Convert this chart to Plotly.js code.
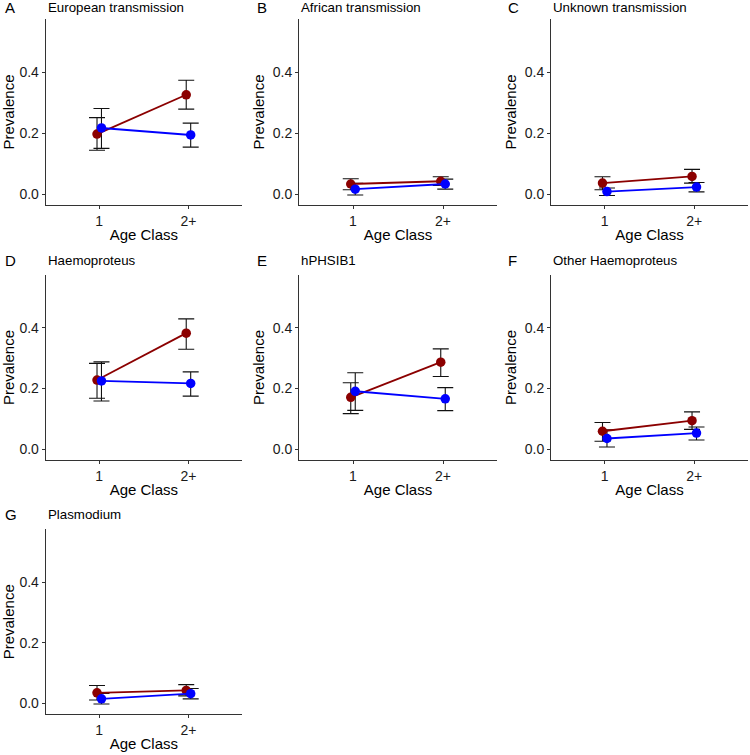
<!DOCTYPE html>
<html>
<head>
<meta charset="utf-8">
<script src="https://cdn.plot.ly/plotly-3.0.1.min.js"></script>
<style>html,body{margin:0;padding:0;background:#fff;}#chart{width:750px;height:755px;}</style>
</head>
<body>
<div id="chart"></div>
<script>
// ---- Data ----
const panelLetters = ["A", "B", "C", "D", "E", "F", "G"];
const panelTitles = ["European transmission", "African transmission", "Unknown transmission",
  "Haemoproteus", "hPHSIB1", "Other Haemoproteus", "Plasmodium"];
const ageClasses = ["1", "2+"];

// red series (dark red)
const redMean = [[0.197, 0.326], [0.033, 0.042], [0.036, 0.058], [0.228, 0.383], [0.171, 0.287], [0.059, 0.094], [0.035, 0.043]];
const redLow  = [[0.144, 0.279], [0.014, 0.028], [0.014, 0.036], [0.168, 0.330], [0.117, 0.240], [0.026, 0.065], [0.011, 0.025]];
const redHigh = [[0.251, 0.374], [0.050, 0.057], [0.057, 0.081], [0.283, 0.430], [0.219, 0.331], [0.088, 0.123], [0.059, 0.062]];
// blue series
const blueMean = [[0.217, 0.194], [0.016, 0.033], [0.008, 0.023], [0.225, 0.217], [0.191, 0.166], [0.035, 0.053], [0.015, 0.032]];
const blueLow  = [[0.150, 0.154], [-0.003, 0.016], [-0.005, 0.007], [0.159, 0.175], [0.128, 0.127], [0.007, 0.030], [-0.002, 0.015]];
const blueHigh = [[0.281, 0.233], [0.035, 0.049], [0.020, 0.038], [0.288, 0.255], [0.252, 0.203], [0.064, 0.073], [0.033, 0.049]];

const yTickVals = [0.0, 0.2, 0.4];
const yTickText = ["0.0", "0.2", "0.4"];

// ---- Layout geometry (pixels) ----
const W = 750, H = 755;
const colX = [[45.7, 242], [299, 497], [551, 748]];
const rowY = [[19, 205], [275, 460], [529.3, 714.3]];
const letterX = [3, 255, 506];
const titleX = [46, 299, 551];
const headY = [7.5, 260.5, 514.5];

const FONT = "Liberation Sans, Arial, sans-serif";
const RED = "#8B0000", BLUE = "#0000FF";

const traces = [];
const layout = {
  width: W, height: H,
  margin: {l: 0, r: 0, t: 0, b: 0},
  paper_bgcolor: "#fff", plot_bgcolor: "#fff",
  showlegend: false,
  scattermode: "group",
  scattergap: 0.9,
  font: {family: FONT, color: "#1a1a1a"},
  annotations: []
};

function errTrace(mean, low, high, color, ax, grp) {
  return {
    type: "scatter", mode: "markers",
    x: ageClasses, y: mean,
    xaxis: ax.x, yaxis: ax.y,
    offsetgroup: grp,
    marker: {size: 9, color: color, opacity: 0},
    error_y: {
      type: "data", symmetric: false,
      array: mean.map((m, i) => high[i] - m),
      arrayminus: mean.map((m, i) => m - low[i]),
      color: "#111", thickness: 1.1, width: 8
    },
    hoverinfo: "skip"
  };
}
function ptTrace(mean, color, ax, grp) {
  return {
    type: "scatter", mode: "lines+markers",
    x: ageClasses, y: mean,
    xaxis: ax.x, yaxis: ax.y,
    offsetgroup: grp,
    line: {color: color, width: 1.8},
    marker: {size: 9.5, color: color}
  };
}

panelTitles.forEach((title, p) => {
  const r = Math.floor(p / 3), c = p % 3;
  const n = p === 0 ? "" : String(p + 1);
  const ax = {x: "x" + n, y: "y" + n};
  const xd = [colX[c][0] / W, colX[c][1] / W];
  const yd = [1 - rowY[r][1] / H, 1 - rowY[r][0] / H];

  layout["xaxis" + n] = {
    domain: xd, anchor: ax.y, type: "category",
    categoryorder: "array", categoryarray: ageClasses,
    range: [-0.6, 1.6], fixedrange: true,
    showline: true, linecolor: "#333", linewidth: 1,
    ticks: "outside", ticklen: 3, tickcolor: "#333", tickwidth: 1,
    showgrid: false, zeroline: false,
    tickfont: {family: FONT, size: 14, color: "#1a1a1a"},
    title: {text: "Age Class", font: {family: FONT, size: 15, color: "#000"}, standoff: 1}
  };
  layout["yaxis" + n] = {
    domain: yd, anchor: ax.x,
    range: [-0.036, 0.575], fixedrange: true,
    tickvals: yTickVals, ticktext: yTickText,
    showline: true, linecolor: "#333", linewidth: 1,
    ticks: "outside", ticklen: 3, tickcolor: "#333", tickwidth: 1,
    showgrid: false, zeroline: false,
    tickfont: {family: FONT, size: 14, color: "#1a1a1a"},
    title: {text: "Prevalence", font: {family: FONT, size: 15, color: "#000"}, standoff: 4}
  };

  traces.push(errTrace(redMean[p], redLow[p], redHigh[p], RED, ax, "red"));
  traces.push(errTrace(blueMean[p], blueLow[p], blueHigh[p], BLUE, ax, "blue"));
  traces.push(ptTrace(redMean[p], RED, ax, "red"));
  traces.push(ptTrace(blueMean[p], BLUE, ax, "blue"));

  layout.annotations.push({
    xref: "paper", yref: "paper", x: letterX[c] / W, y: 1 - headY[r] / H,
    xanchor: "left", yanchor: "middle", showarrow: false,
    text: panelLetters[p], font: {family: FONT, size: 15, color: "#000"}
  });
  layout.annotations.push({
    xref: "paper", yref: "paper", x: titleX[c] / W, y: 1 - headY[r] / H,
    xanchor: "left", yanchor: "middle", showarrow: false,
    text: title, font: {family: FONT, size: 13.3, color: "#000"}
  });
});

Plotly.newPlot("chart", traces, layout, {displayModeBar: false, staticPlot: true});
</script>
</body>
</html>
